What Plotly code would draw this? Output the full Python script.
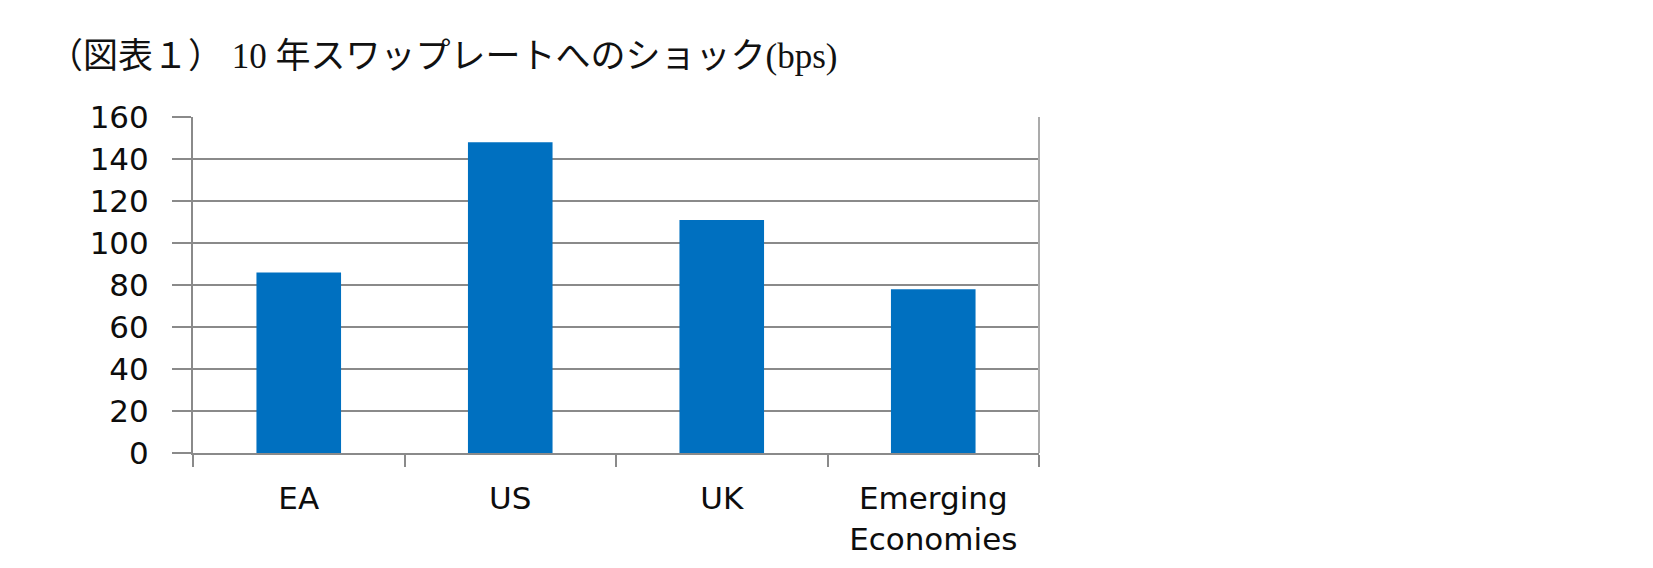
import plotly.graph_objects as go

categories = ["EA", "US", "UK", "Emerging<br>Economies"]
values = [86, 148, 111, 78]
y_ticks = [0, 20, 40, 60, 80, 100, 120, 140, 160]
title_text = "（図表１） 10 年スワップレートへのショック(bps)"

# the page body adds an 8px margin, so the figure is drawn 8px smaller
W, H = 1645, 560
L, R, T, B = 185, 614, 109, 115

fig = go.Figure()
fig.add_trace(go.Bar(
    x=categories, y=values,
    marker=dict(color="#0070C0", line=dict(width=0)),
    hoverinfo="x+y",
))

label_font = dict(family="DejaVu Sans, Verdana, sans-serif", size=31, color="#0d0d0d")

fig.update_layout(
    width=W, height=H,
    margin=dict(l=L, r=R, t=T, b=B, pad=0, autoexpand=False),
    paper_bgcolor="white", plot_bgcolor="white",
    bargap=0.6,
    showlegend=False,
    font=label_font,
    title=dict(
        text=title_text,
        x=40 / W, xanchor="left", xref="container",
        y=1 - 48 / H, yanchor="middle", yref="container",
        font=dict(family="Liberation Serif, Noto Sans CJK JP, serif", size=35,
                  color="#111", weight="normal"),
    ),
    xaxis=dict(
        type="category",
        automargin=False,
        showgrid=False,
        showline=True, linecolor="#8a8a8a", linewidth=2,
        ticks="outside", tickson="boundaries", ticklen=12, tickwidth=2, tickcolor="#8a8a8a",
        tickfont=label_font,
        ticklabelstandoff=17,
        fixedrange=True,
    ),
    yaxis=dict(
        automargin=False,
        range=[0, 160],
        tickvals=y_ticks,
        showgrid=True, gridcolor="#8a8a8a", gridwidth=2,
        zeroline=False,
        showline=True, linecolor="#8a8a8a", linewidth=2,
        ticks="outside", ticklen=19, tickwidth=2, tickcolor="#8a8a8a",
        tickfont=label_font,
        ticklabelstandoff=17,
        fixedrange=True,
    ),
)

# light grey right-hand border of the plot area
fig.add_shape(type="line", xref="x domain", yref="y domain",
              x0=1, x1=1, y0=0, y1=1,
              line=dict(color="#ababab", width=2))

fig.write_html("out.html")
